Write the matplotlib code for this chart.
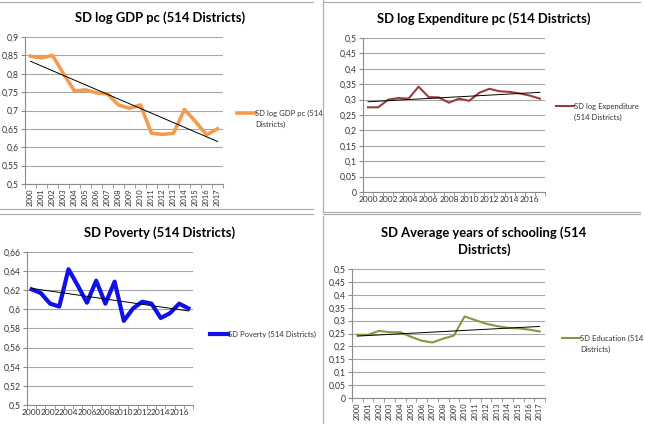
import numpy as np
import matplotlib
matplotlib.use("Agg")
import matplotlib.pyplot as plt
from matplotlib.lines import Line2D
from matplotlib.ticker import FuncFormatter

plt.rcParams['font.family'] = ['Lato', 'DejaVu Sans']

years = list(range(2000, 2018))

gdp = [0.848, 0.843, 0.850, 0.800, 0.753, 0.756, 0.748, 0.745, 0.715, 0.706,
       0.715, 0.638, 0.635, 0.638, 0.703, 0.670, 0.634, 0.650]
expenditure = [0.275, 0.275, 0.300, 0.305, 0.303, 0.342, 0.308, 0.307, 0.290, 0.303,
               0.296, 0.322, 0.335, 0.327, 0.325, 0.320, 0.313, 0.303]
poverty = [0.621, 0.617, 0.606, 0.603, 0.642, 0.625, 0.607, 0.630, 0.606, 0.629,
           0.588, 0.601, 0.608, 0.606, 0.591, 0.596, 0.606, 0.601]
education = [0.245, 0.245, 0.260, 0.255, 0.255, 0.237, 0.222, 0.215, 0.230, 0.242,
             0.316, 0.302, 0.288, 0.279, 0.272, 0.270, 0.265, 0.258]

W, H = 645, 424
fig = plt.figure(figsize=(W / 100, H / 100), dpi=100)


def px_axes(x0, y0, x1, y1):
    return fig.add_axes([x0 / W, 1 - y1 / H, (x1 - x0) / W, (y1 - y0) / H])


def comma(v, pos):
    s = ('%.2f' % v).rstrip('0').rstrip('.')
    return s.replace('.', ',')


def panel(rect, values, color, lw, ylim, ystep, label, rotate, every):
    ax = px_axes(*rect)
    x = np.arange(len(years))
    ax.plot(x, values, color=color, lw=lw, solid_joinstyle='round', label=label, zorder=3)
    k, b = np.polyfit(x, values, 1)
    ax.plot(x, k * x + b, color='black', lw=0.7, zorder=4)
    ax.set_xlim(-0.5, len(years) - 0.5)
    ax.set_ylim(*ylim)
    ax.set_yticks(np.arange(ylim[0], ylim[1] + ystep / 2, ystep))
    ax.yaxis.set_major_formatter(FuncFormatter(comma))
    ax.grid(axis='y', color='#a6a6a6', lw=0.8)
    ax.set_axisbelow(True)
    for s in ('top', 'right'):
        ax.spines[s].set_visible(False)
    for s in ('left', 'bottom'):
        ax.spines[s].set_color('#8c8c8c')
        ax.spines[s].set_linewidth(0.8)
    ax.set_xticks(x[::every])
    ax.set_xticklabels([str(y) for y in years[::every]], rotation=90 if rotate else 0)
    ax.set_xticks(np.arange(-0.5, len(years)), minor=True)
    ax.tick_params(axis='x', which='major', length=0, pad=3,
                   labelsize=5.5 if rotate else 6, labelcolor='#333333')
    ax.tick_params(axis='x', which='minor', length=3, color='#8c8c8c')
    ax.tick_params(axis='y', length=3, color='#8c8c8c', labelsize=6.2, labelcolor='#333333', pad=1.5)
    return ax


def legend_entry(xl, yl, color, lw, text):
    fig.add_artist(Line2D([xl / W, (xl + 18) / W], [1 - yl / H, 1 - yl / H],
                          color=color, lw=lw, transform=fig.transFigure))
    fig.text((xl + 18) / W, 1 - (yl - 3) / H, text, fontsize=5.5, color='#333333',
             va='top', ha='left', linespacing=1.6)


# top left: GDP
panel((25, 37, 223, 184), gdp, '#f39c4e', 2.6, (0.5, 0.9), 0.05,
      'SD log GDP pc (514 Districts)', True, 1)
fig.text(160 / W, 1 - 18 / H, 'SD log GDP pc (514 Districts)', ha='center', va='center',
         fontsize=9.4, fontweight='bold')
legend_entry(237, 113, '#f39c4e', 2.6, 'SD log GDP pc (514\nDistricts)')

# top right: expenditure
panel((363, 38, 545, 192), expenditure, '#9b3b3f', 1.5, (0, 0.5), 0.05,
      'SD log Expenditure', False, 2)
fig.text(484 / W, 1 - 19 / H, 'SD log Expenditure pc (514 Districts)', ha='center', va='center',
         fontsize=9.4, fontweight='bold')
legend_entry(556, 106, '#9b3b3f', 1.5, 'SD log Expenditure\n(514 Districts)')

# bottom left: poverty
panel((27, 252, 193, 405), poverty, '#1010e8', 3.0, (0.5, 0.66), 0.02,
      'SD Poverty (514 Districts)', False, 2)
fig.text(160 / W, 1 - 233 / H, 'SD Poverty (514 Districts)', ha='center', va='center',
         fontsize=9.4, fontweight='bold')
legend_entry(210, 334, '#1010e8', 3.0, 'SD Poverty (514 Districts)')

# bottom right: education
panel((352, 269, 545, 398), education, '#7f9a41', 1.5, (0, 0.5), 0.05,
      'SD Education (514 Districts)', True, 1)
fig.text(484 / W, 1 - 241 / H, 'SD Average years of schooling (514\nDistricts)', ha='center',
         va='center', fontsize=9.4, fontweight='bold', linespacing=1.35)
legend_entry(562, 338, '#7f9a41', 1.5, 'SD Education (514\nDistricts)')

# panel borders
def hline(y, x0, x1):
    fig.add_artist(Line2D([x0 / W, x1 / W], [1 - y / H, 1 - y / H], color='#b0b0b0', lw=0.9))


def vline(x, y0, y1):
    fig.add_artist(Line2D([x / W, x / W], [1 - y0 / H, 1 - y1 / H], color='#b0b0b0', lw=0.9))


hline(2, 0, 313)
hline(209, 0, 313)
hline(214, 0, 313)
hline(2, 323, 640)
hline(212, 323, 640)
hline(214, 323, 640)
vline(323, 0, 212)
vline(323, 216, 424)

fig.savefig('out.png', dpi=100)
